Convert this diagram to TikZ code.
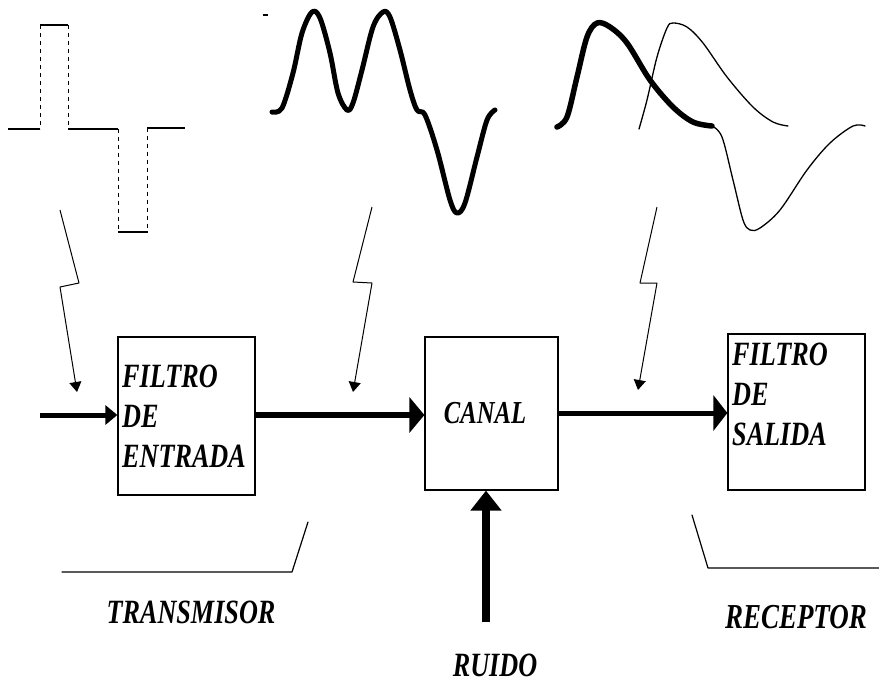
\documentclass[tikz,border=0pt]{standalone}
\usepackage{fontspec}
\setmainfont{Liberation Serif}
\newfontfamily\labfont[FakeStretch=0.77]{Liberation Serif}
\usetikzlibrary{arrows.meta}

\tikzset{
  blockbox/.style={draw, line width=1.2pt, rectangle, inner sep=0pt},
  boxtext/.style={inner sep=0pt, align=left, anchor=north west,
    font=\labfont\bfseries\itshape\fontsize{34}{40}\selectfont},
  caption/.style={inner sep=0pt, anchor=base,
    font=\labfont\bfseries\itshape\fontsize{34}{40}\selectfont},
  thinline/.style={line width=1.2pt, line cap=round, line join=round},
  pulseedge/.style={line width=0.8pt, dash pattern=on 4pt off 4pt},
  thickwave/.style={line width=5pt, line cap=round, line join=round},
  thinwave/.style={line width=1.3pt, line cap=round, line join=round},
  pointer/.style={line width=1pt, line join=round,
    -{Triangle[length=10pt,width=12pt]}},
  bigflow/.style={line width=#1, line cap=butt}
}

\begin{document}
\begin{tikzpicture}[x=1pt,y=-1pt]
\useasboundingbox (0,0) rectangle (879,686);

% ---- blocks ----
\node[blockbox, minimum width=137pt, minimum height=158pt] (b1) at (186.5,416) {};
\node[blockbox, minimum width=133pt, minimum height=153pt] (b2) at (491.5,413.5) {};
\node[blockbox, minimum width=137pt, minimum height=156pt] (b3) at (796.5,412) {};

\node[boxtext] (t1) at (122,365) {FILTRO\\DE\\ENTRADA};
\node[inner sep=0pt, anchor=base, font=\labfont\bfseries\itshape\fontsize{32}{36}\selectfont]
  (t2) at (485,423) {CANAL};
\node[boxtext] (t3) at (732,343) {FILTRO\\DE\\SALIDA};

% ---- signal path ----
\coordinate (in) at (40,415);
\draw[bigflow=5pt, -{Triangle[length=12pt,width=19pt]}] (in) -- (in -| b1.west);
\draw[bigflow=6.5pt, -{Triangle[length=15pt,width=35pt]}] (b1.east |- 0,415) -- (b2.west |- 0,415);
\draw[bigflow=5pt, -{Triangle[length=14pt,width=35pt]}] (b2.east |- 0,413) -- (b3.west |- 0,413);

% ---- noise input ----
\coordinate (nz) at (486,622);
\draw[bigflow=7.5pt, -{Triangle[length=20pt,width=30pt]}] (nz) -- (nz |- b2.south);
\node[caption] (ruido) at (495,676) {RUIDO};

% ---- transmitter / receiver brackets ----
\coordinate (tx1) at (62,572);
\coordinate (tx2) at (292,572);
\coordinate (tx3) at (308,522);
\draw[thinline] (tx1) -- (tx2) -- (tx3);
\node[caption] (tx) at (191,623) {TRANSMISOR};

\coordinate (rx1) at (692,515);
\coordinate (rx2) at (708,568);
\coordinate (rx3) at (879,568);
\draw[thinline] (rx1) -- (rx2) -- (rx3);
\node[caption, font=\labfont\bfseries\itshape\fontsize{35}{40}\selectfont] (rx) at (796,628) {RECEPTOR};

% ---- input pulse train ----
\draw[line width=1.6pt] (8,129) -- (40,129);
\draw[line width=1.6pt] (40,25) -- (68,25);
\draw[line width=1.6pt] (68,129) -- (118,129);
\draw[line width=1.6pt] (118,232) -- (148,232);
\draw[line width=1.6pt] (147,128) -- (185,128);
\draw[pulseedge] (40,25) -- (40,129);
\draw[pulseedge] (68,25) -- (68,129);
\draw[pulseedge] (118,129) -- (118,232);
\draw[pulseedge] (147,128) -- (147,232);
\draw[line width=1.2pt] (263,15) -- (268,15);

% ---- waveform after the input filter ----
\draw[thickwave] plot[smooth, tension=0.55] coordinates {
  (272,112) (282,108) (293,73) (302,33) (312,12) (320,18) (330,53) (338,93)
  (347,110) (353,103) (362,70) (373,27) (383,12) (390,17) (400,50) (410,90)
  (417,110) (425,115) (437,150) (450,200) (457,213) (465,203) (477,157)
  (487,120) (495,110)};

% ---- waveform after the channel ----
\draw[thickwave, line width=5.5pt] plot[smooth, tension=0.55] coordinates {
  (557,127) (567,117) (577,77) (587,37) (597,23) (610,27) (627,43) (650,80)
  (673,107) (693,122) (712,126)};
\draw[thinwave] plot[smooth, tension=0.55] coordinates {
  (639,129) (647,100) (657,57) (667,28) (673,23) (687,27) (703,43) (727,77)
  (753,107) (773,122) (788,126)};
\draw[thinwave] plot[smooth, tension=0.55] coordinates {
  (712,126) (722,137) (733,180) (743,220) (750,230) (760,228) (780,210)
  (807,170) (830,143) (853,126) (865,126)};

% ---- pointers from the waveforms to the signal path ----
\coordinate (p1s) at (60,210);
\coordinate (p1e) at (77,392);
\draw[pointer] (p1s) -- (79,283) -- (60,287) -- (p1e);
\coordinate (p2s) at (372,207);
\coordinate (p2e) at (353,392);
\draw[pointer] (p2s) -- (353,282) -- (372,283) -- (p2e);
\coordinate (p3s) at (657,207);
\coordinate (p3e) at (638,390);
\draw[pointer] (p3s) -- (640,283) -- (657,283) -- (p3e);
\end{tikzpicture}
\end{document}
